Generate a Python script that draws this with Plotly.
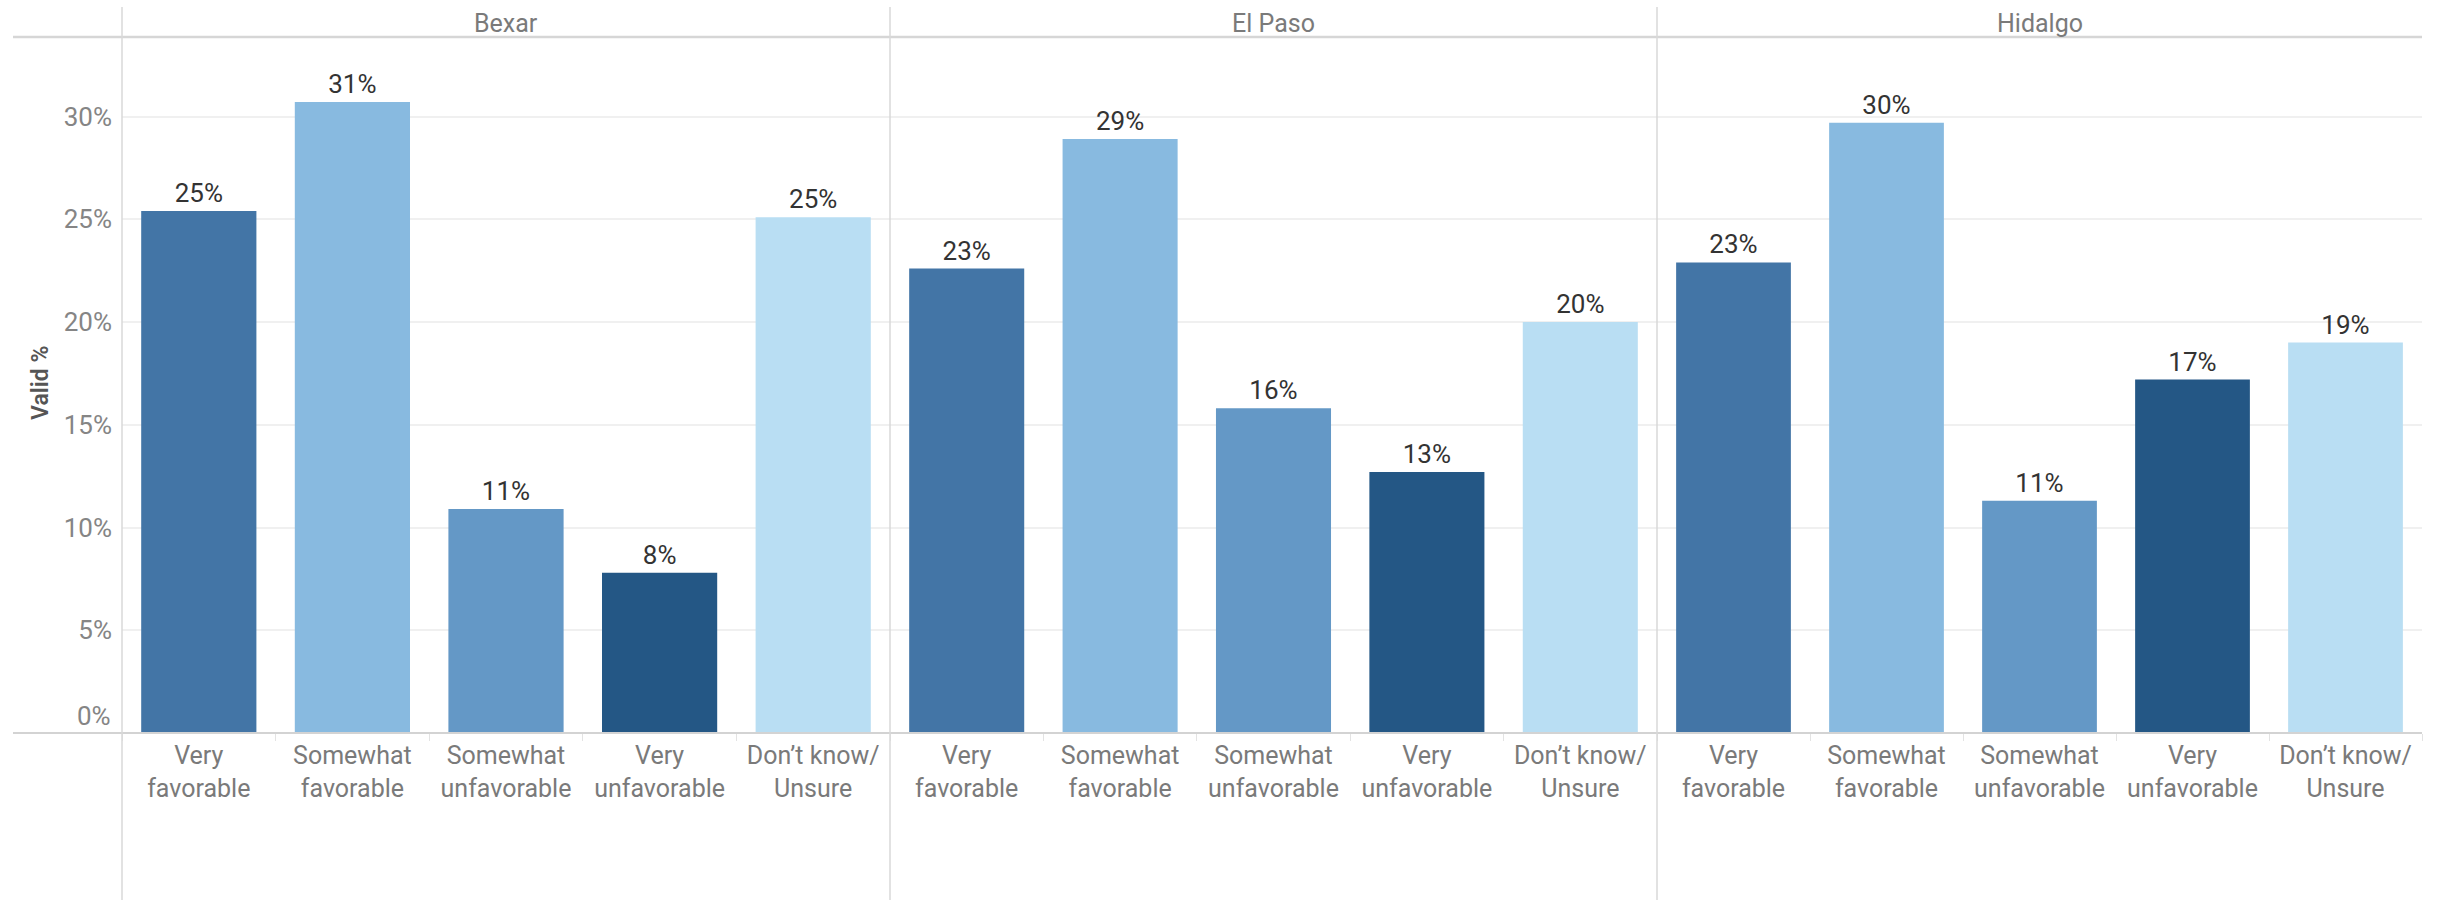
import plotly.graph_objects as go

# ---------------- data ----------------
counties = ["Bexar", "El Paso", "Hidalgo"]
categories = ["Very favorable", "Somewhat favorable", "Somewhat unfavorable",
              "Very unfavorable", "Don’t know/ Unsure"]
tick_labels = ["Very<br>favorable", "Somewhat<br>favorable", "Somewhat<br>unfavorable",
               "Very<br>unfavorable", "Don’t know/<br>Unsure"]
bexar = [25.4, 30.7, 10.9, 7.8, 25.1]
el_paso = [22.6, 28.9, 15.8, 12.7, 20.0]
hidalgo = [22.9, 29.7, 11.3, 17.2, 19.0]
values = [bexar, el_paso, hidalgo]
bar_colors = ["#4375a6", "#88bae0", "#6498c6", "#245785", "#b9def3"]
y_ticks = [5, 10, 15, 20, 25, 30]
y_tick_text = [f"{t}%" for t in y_ticks]
y_base_label = "0%"

# ---------------- geometry ----------------
W, H = 2437, 900
FONT = "Roboto"
panel_edges = [122, 890, 1657, 2422]
plot_top, plot_bottom = 37, 733
px_per_pct = 20.55
y_max = (plot_bottom - plot_top) / px_per_pct

def fx(px):
    return px / W

def fy(py):
    return 1 - py / H

fig = go.Figure()
axis_names = ["x", "x2", "x3"]
for i, (county, vals) in enumerate(zip(counties, values)):
    fig.add_trace(go.Bar(
        x=categories, y=vals, xaxis=axis_names[i], yaxis="y",
        marker=dict(color=bar_colors, line=dict(width=0)),
        texttemplate="%{y:.0f}%", textposition="outside",
        textfont=dict(family=FONT, size=26, color="#333333"),
        cliponaxis=False, hoverinfo="skip", showlegend=False,
    ))

ydomain = [fy(plot_bottom), fy(plot_top)]
layout = dict(
    width=W, height=H,
    margin=dict(l=0, r=0, t=0, b=0),
    paper_bgcolor="white", plot_bgcolor="white",
    bargap=0.25,
    font=dict(family=FONT),
    modebar=dict(bgcolor="rgba(0,0,0,0)", color="rgba(0,0,0,0)",
                 activecolor="rgba(0,0,0,0)"),
    yaxis=dict(
        domain=ydomain, range=[0, y_max], anchor="x",
        tickvals=y_ticks, ticktext=y_tick_text,
        tickfont=dict(family=FONT, size=26, color="#858585"),
        showgrid=True, gridcolor="#f0f0f0", gridwidth=1.5,
        zeroline=False, showline=False, ticks="", ticklabelstandoff=9,
        fixedrange=True,
    ),
)
for i in range(3):
    key = "xaxis" if i == 0 else f"xaxis{i+1}"
    layout[key] = dict(
        domain=[fx(panel_edges[i]), fx(panel_edges[i + 1])], anchor="y",
        type="category", categoryorder="array", categoryarray=categories,
        tickvals=categories, ticktext=tick_labels,
        tickson="boundaries", ticks="outside", ticklen=7,
        tickcolor="#e3e3e3", tickwidth=1, ticklabelstandoff=5,
        tickfont=dict(family=FONT, size=25, color="#7a7a7a"),
        showgrid=False, zeroline=False, showline=False,
        range=[-0.5, 4.5], fixedrange=True,
    )
fig.update_layout(**layout)

shapes = []
# header line and zero line
for yy, col, wd in [(plot_top, "#d6d6d6", 2.5), (plot_bottom, "#d3d3d3", 2)]:
    shapes.append(dict(type="line", xref="paper", yref="paper",
                       x0=fx(13), x1=fx(panel_edges[-1]), y0=fy(yy), y1=fy(yy),
                       line=dict(color=col, width=wd)))
# panel separators
for xe in panel_edges[:3]:
    shapes.append(dict(type="line", xref="paper", yref="paper",
                       x0=fx(xe), x1=fx(xe), y0=fy(7), y1=0,
                       line=dict(color="#d9d9d9", width=1.5)))
fig.update_layout(shapes=shapes)

annotations = []
for i, county in enumerate(counties):
    annotations.append(dict(
        text=county, xref="paper", yref="paper",
        x=fx((panel_edges[i] + panel_edges[i + 1]) / 2), y=fy(23),
        xanchor="center", yanchor="middle", showarrow=False,
        font=dict(family=FONT, size=25, color="#7a7a7a"),
    ))
# baseline tick label, lifted above the baseline as in the reference
annotations.append(dict(
    text=y_base_label, xref="paper", yref="y",
    x=fx(panel_edges[0] - 9), y=0, yshift=17,
    xanchor="right", yanchor="middle", showarrow=False,
    font=dict(family=FONT, size=26, color="#858585"),
))
annotations.append(dict(
    text="Valid %", xref="paper", yref="paper",
    x=fx(40), y=fy((plot_top + plot_bottom) / 2 - 2),
    xanchor="center", yanchor="middle", showarrow=False, textangle=-90,
    font=dict(family=FONT, size=23, color="#555555", weight=600),
))
fig.update_layout(annotations=annotations)

fig.write_html("out.html",
               config={"displayModeBar": False},
               post_script="document.body.style.margin='0';"
                           "document.documentElement.style.margin='0';")
